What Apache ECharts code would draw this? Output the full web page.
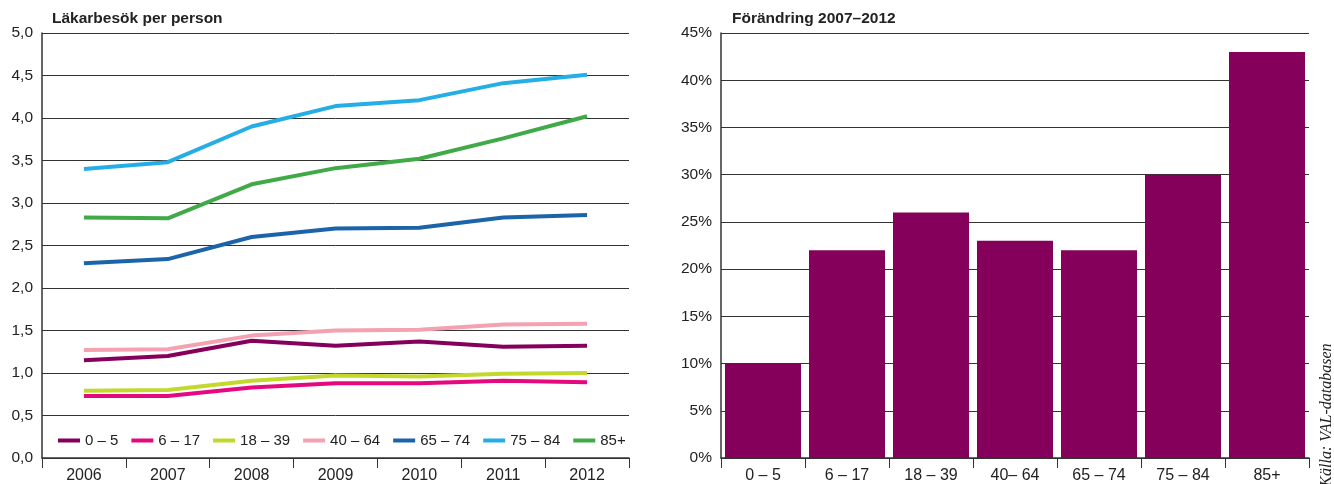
<!DOCTYPE html>
<html><head><meta charset="utf-8">
<script src="https://cdn.jsdelivr.net/npm/echarts@6/dist/echarts.min.js"></script>
<style>html,body{margin:0;padding:0;background:#fff}#c{width:1334px;height:484px}</style>
</head><body><div id="c"></div>
<script>
const years = ['2006','2007','2008','2009','2010','2011','2012'];
const groupNames = ['0 – 5','6 – 17','18 – 39','40 – 64','65 – 74','75 – 84','85+'];
const barCategories = ['0 – 5','6 – 17','18 – 39','40– 64','65 – 74','75 – 84','85+'];
const s0_5   = [1.15, 1.20, 1.38, 1.32, 1.37, 1.31, 1.32];
const s6_17  = [0.73, 0.73, 0.83, 0.88, 0.88, 0.91, 0.89];
const s18_39 = [0.79, 0.80, 0.91, 0.97, 0.96, 0.99, 1.00];
const s40_64 = [1.27, 1.28, 1.44, 1.50, 1.51, 1.57, 1.58];
const s65_74 = [2.29, 2.34, 2.60, 2.70, 2.71, 2.83, 2.86];
const s75_84 = [3.40, 3.48, 3.90, 4.14, 4.21, 4.41, 4.51];
const s85    = [2.83, 2.82, 3.22, 3.41, 3.52, 3.76, 4.02];
const changePct = [10, 22, 26, 23, 22, 30, 43];
const leftTicks = {min: 0, max: 5, interval: 0.5};
const rightTicks = {min: 0, max: 45, interval: 5};

const seriesValues = [s0_5, s6_17, s18_39, s40_64, s65_74, s75_84, s85];
const colors = ['#85005a', '#e5097f', '#c3d82e', '#f4a1b1', '#1b64a9', '#25aee5', '#40aa48'];
const txt = '#222';
const font = 'Liberation Sans, Arial, sans-serif';

const chart = echarts.init(document.getElementById('c'));
const lineSeries = seriesValues.map((v, i) => ({
  name: groupNames[i], type: 'line', xAxisIndex: 0, yAxisIndex: 0,
  data: v, symbol: 'none', lineStyle: {width: 4, color: colors[i]},
  itemStyle: {color: colors[i]}, z: 3 + i, animation: false
}));
chart.setOption({
  animation: false,
  textStyle: {fontFamily: font},
  title: [
    {text: 'Läkarbesök per person', left: 52, top: 11, padding: 0, textStyle: {fontSize: 15.5, fontWeight: 'bold', color: txt, fontFamily: font}},
    {text: 'Förändring 2007–2012', left: 732, top: 11, padding: 0, textStyle: {fontSize: 15.5, fontWeight: 'bold', color: txt, fontFamily: font}}
  ],
  legend: {
    data: groupNames, left: 53, top: 428, itemWidth: 22, itemHeight: 4, itemGap: 13,
    icon: 'rect', textStyle: {fontSize: 15, color: txt, fontFamily: font}
  },
  grid: [
    {left: 42, right: 705, top: 33, bottom: 24},
    {left: 721, right: 25, top: 33, bottom: 24}
  ],
  xAxis: [
    {type: 'category', gridIndex: 0, data: years, boundaryGap: true,
     axisLine: {lineStyle: {color: '#333', width: 1.5}},
     axisTick: {show: true, length: 10, lineStyle: {color: '#333'}},
     axisLabel: {fontSize: 16, color: txt, margin: 10, fontFamily: font}},
    {type: 'category', gridIndex: 1, data: barCategories, boundaryGap: true,
     axisLine: {lineStyle: {color: '#333', width: 1.5}},
     axisTick: {show: true, length: 10, lineStyle: {color: '#333'}},
     axisLabel: {fontSize: 16, color: txt, margin: 10, fontFamily: font}}
  ],
  yAxis: [
    {type: 'value', gridIndex: 0, min: leftTicks.min, max: leftTicks.max, interval: leftTicks.interval,
     axisLine: {show: true, lineStyle: {color: '#333', width: 1.5}}, axisTick: {show: false},
     splitLine: {lineStyle: {color: '#333', width: 1}},
     axisLabel: {fontSize: 15.5, color: txt, margin: 9, fontFamily: font,
       formatter: v => v.toFixed(1).replace('.', ',')}},
    {type: 'value', gridIndex: 1, min: rightTicks.min, max: rightTicks.max, interval: rightTicks.interval,
     axisLine: {show: true, lineStyle: {color: '#333', width: 1.5}}, axisTick: {show: false},
     splitLine: {lineStyle: {color: '#333', width: 1}},
     axisLabel: {fontSize: 15.5, color: txt, margin: 9, fontFamily: font,
       formatter: v => v + '%'}}
  ],
  series: lineSeries.concat([{
    name: 'Förändring', type: 'bar', xAxisIndex: 1, yAxisIndex: 1, data: changePct,
    barCategoryGap: '9.5%', itemStyle: {color: '#85005a'}, z: 3
  }]),
  graphic: [{
    type: 'text', x: 1327, y: 415, rotation: Math.PI / 2,
    style: {text: 'Källa: VAL-databasen', fontSize: 16, fontStyle: 'italic',
      fontFamily: 'Liberation Serif, DejaVu Serif, serif', fill: txt,
      align: 'center', verticalAlign: 'middle'}
  }]
});
</script></body></html>
